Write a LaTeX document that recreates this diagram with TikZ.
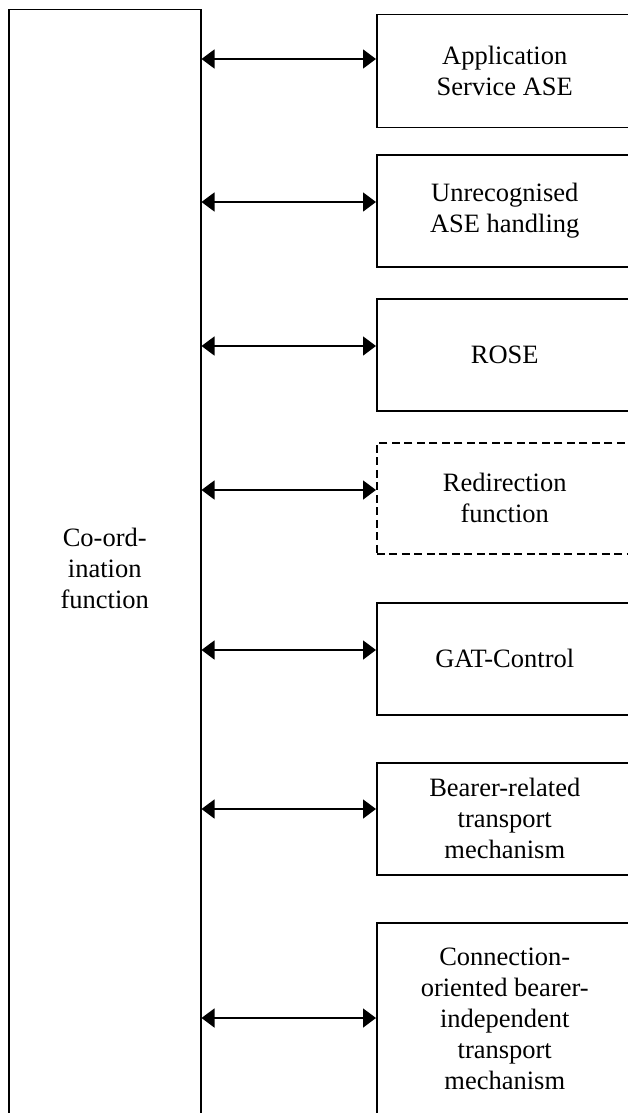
\documentclass[tikz,border=0pt]{standalone}
\usepackage{fontspec}
\setmainfont{Liberation Serif}
\usetikzlibrary{arrows.meta}

\begin{document}
\begin{tikzpicture}[x=1pt, y=-1pt,
                every node/.style = {draw, line width=1.5pt, align=center, inner sep=0pt,
                                     font=\fontsize{26.5}{31}\selectfont},
                block/.style = {anchor=north west, minimum width=256pt, minimum height=112pt},
                optional/.style = {dash pattern=on 8pt off 4.5pt},
                link/.style = {{Triangle[length=13pt,width=19pt]}-{Triangle[length=13pt,width=19pt]},
                               line width=1.5pt}
                ]
                \useasboundingbox (0,0) rectangle (628,1113);
                \clip (0,0) rectangle (628,1113);
                \node[anchor=north west, minimum width=192pt, minimum height=1118pt] (coord) at (8,9)
                    {Co-ord-\\ination\\function};
                \node[block, minimum height=113pt] (ase) at (376,14) {Application\\Service ASE};
                \node[block] (unrec) at (376,154) {Unrecognised\\ASE handling};
                \node[block] (rose) at (376,298) {ROSE};
                \node[block, optional, minimum height=111pt] (redir) at (376,442) {Redirection\\function};
                \node[block] (gat) at (376,602) {GAT-Control};
                \node[block] (bearer) at (376,762) {Bearer-related\\transport\\mechanism};
                \node[block, minimum height=192pt] (coib) at (376,922)
                    {Connection-\\oriented bearer-\\independent\\transport\\mechanism};
                \foreach \b/\y in {ase/59, unrec/202, rose/346, redir/490, gat/650, bearer/809, coib/1018}
                    \draw[link] (coord.east |- 0,\y) -- (\b.west |- 0,\y);
            \end{tikzpicture}
\end{document}
